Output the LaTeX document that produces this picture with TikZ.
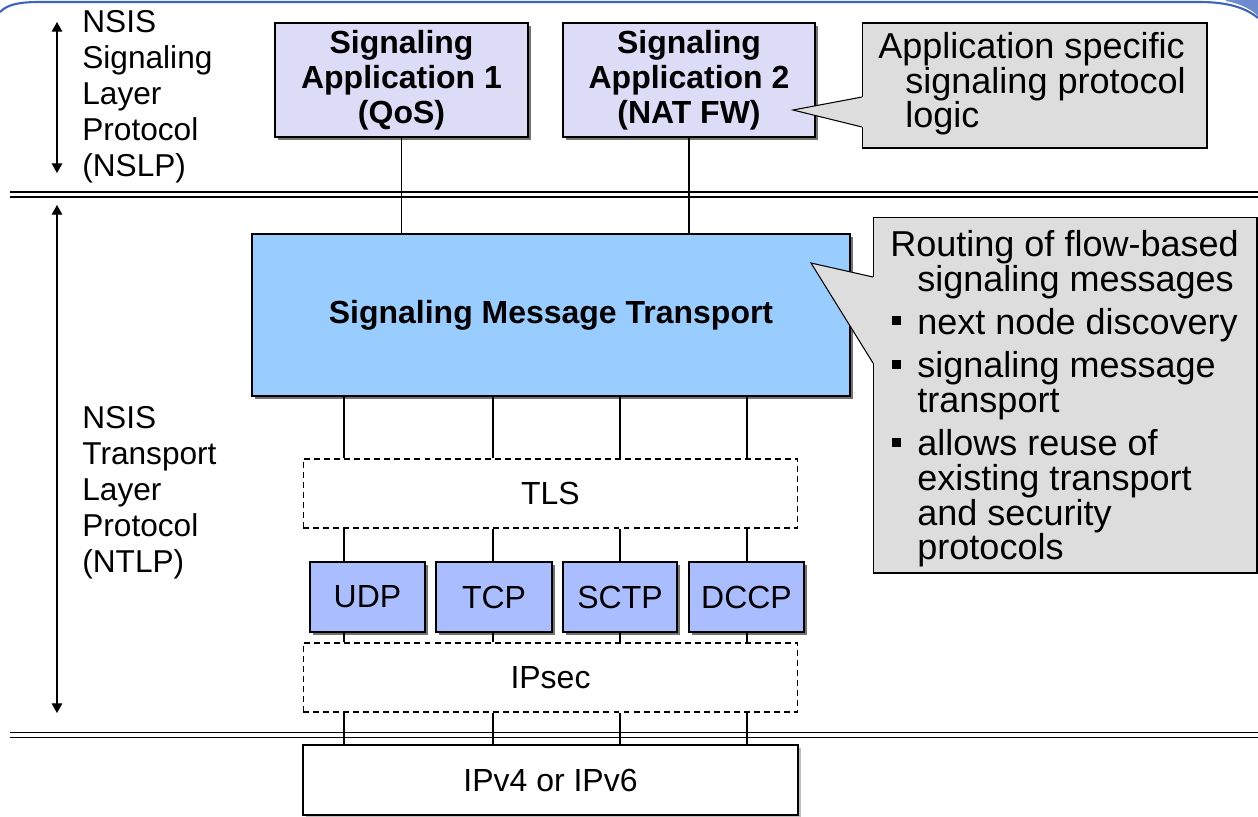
\documentclass[tikz,border=0pt]{standalone}
\usepackage{fontspec}
\setmainfont{Liberation Sans}
\usetikzlibrary{arrows.meta,shadows}

\definecolor{appfill}{RGB}{220,220,246}
\definecolor{smtfill}{RGB}{153,204,255}
\definecolor{protofill}{RGB}{170,190,255}
\definecolor{notefill}{RGB}{221,221,221}
\definecolor{framecol}{RGB}{60,100,190}

\newcommand{\boxfont}{\fontsize{18.2}{19.9}\selectfont}
\newcommand{\labelfont}{\fontsize{18}{20.5}\selectfont}
\newcommand{\notefont}{\fontsize{20.5}{19.7}\selectfont}
\newcommand{\noteindent}{\hspace*{15.4pt}}
\newcommand{\sqbullet}{\makebox[15.4pt][l]{\hspace*{1.1pt}\rule[0.26em]{0.24em}{0.24em}}}

\begin{document}
\begin{tikzpicture}[
    x=0.02cm, y=-0.02cm,
    layerbox/.style={rectangle, draw, line width=0.8pt, align=center, font=\boxfont},
    shadowed/.style={drop shadow={shadow xshift=1.8pt, shadow yshift=-1.8pt, fill=black!55, opacity=1}},
    appbox/.style={layerbox, fill=appfill, shadowed, font=\boxfont\bfseries},
    smtbox/.style={layerbox, fill=smtfill, shadowed, font=\boxfont\bfseries},
    protobox/.style={layerbox, fill=protofill, shadowed, minimum height=1.4cm},
    dashbox/.style={layerbox, line width=0.6pt, dash pattern=on 3.4pt off 2.3pt, fill=white, minimum width=9.9cm, minimum height=1.38cm},
    ipbox/.style={layerbox, fill=white, drop shadow={shadow xshift=1.8pt, shadow yshift=-1.8pt, fill=black!25, opacity=1}},
    note/.style={rectangle, draw, line width=0.6pt, fill=notefill},
    notetext/.style={anchor=north west, inner sep=0pt, align=left, font=\notefont},
    layerlabel/.style={anchor=north west, inner sep=0pt, align=left, font=\labelfont},
    link/.style={line width=0.6pt},
    layerline/.style={double, line width=0.8pt, double distance=2.2pt},
    layerarrow/.style={{Triangle[length=5.5pt,width=6pt]}-{Triangle[length=5.5pt,width=6pt]}, line width=0.7pt}
]
    \useasboundingbox (0,0) rectangle (1258,816);

    % slide frame at the top
    \draw[framecol, line width=1.2pt] (0,12) .. controls (8,4) and (20,2) .. (40,2) -- (1200,2) .. controls (1228,2) and (1246,8) .. (1258,18);
    \fill[framecol!75] (1226,1) .. controls (1242,4) and (1252,10) .. (1258,16) -- (1258,0) -- (1226,0) -- cycle;

    % layer separators
    \coordinate (sepAw) at (10,194.5);
    \coordinate (sepAe) at (1258,194.5);
    \coordinate (sepBw) at (10,735);
    \coordinate (sepBe) at (1258,735);
    \draw[layerline] (sepAw) -- (sepAe);
    \draw[layerline] (sepBw) -- (sepBe);

    % layer labels
    \coordinate (nslptop) at (57,22);
    \coordinate (nslpbot) at (57,173);
    \coordinate (ntlptop) at (57,205);
    \coordinate (ntlpbot) at (57,713);
    \draw[layerarrow] (nslptop) -- (nslpbot);
    \draw[layerarrow] (ntlptop) -- (ntlpbot);
    \node[layerlabel] (nslp) at (82,10) {NSIS\\Signaling\\Layer\\Protocol\\(NSLP)};
    \node[layerlabel] (ntlp) at (82,406) {NSIS\\Transport\\Layer\\Protocol\\(NTLP)};

    % boxes
    \node[appbox, minimum width=5.06cm, minimum height=2.28cm] (app1) at (401.5,80) {Signaling\\Application 1\\(QoS)};
    \node[appbox, minimum width=5.04cm, minimum height=2.28cm] (app2) at (689,80) {Signaling\\Application 2\\(NAT FW)};
    \node[smtbox, minimum width=11.96cm, minimum height=3.24cm] (smt) at (551,315) {Signaling Message Transport};
    \node[dashbox] (tls) at (550.5,493.5) {TLS};
    \node[protobox, minimum width=2.3cm] (udp) at (367.5,597) {UDP};
    \node[protobox, minimum width=2.32cm] (tcp) at (494,597) {TCP};
    \node[protobox, minimum width=2.28cm] (sctp) at (620,597) {SCTP};
    \node[protobox, minimum width=2.3cm] (dccp) at (746.5,597) {DCCP};
    \node[dashbox] (ipsec) at (550.5,677.5) {IPsec};
    \node[ipbox, minimum width=9.9cm, minimum height=1.4cm] (ip) at (550.5,780) {IPv4 or IPv6};

    % connectors
    \draw[link] (app1.south) -- (app1.south |- smt.north);
    \draw[link] (app2.south) -- (app2.south |- smt.north);
    \coordinate (c1) at (344,0);
    \coordinate (c2) at (493,0);
    \coordinate (c3) at (620,0);
    \coordinate (c4) at (747,0);
    \foreach \c/\p in {c1/udp, c2/tcp, c3/sctp, c4/dccp} {
        \draw[link] (smt.south -| \c) -- (tls.north -| \c);
        \draw[link] (tls.south -| \c) -- (\p.north -| \c);
        \draw[link] (\p.south -| \c) -- (ipsec.north -| \c);
        \draw[link] (ipsec.south -| \c) -- (ip.north -| \c);
    }

    % callouts
    \node[note, minimum width=6.9cm, minimum height=2.5cm] (appnote) at (1034.5,85.5) {};
    \coordinate (apptip) at (793,110);
    \fill[notefill] (862,97) -- (apptip) -- (862,127) -- (866,127) -- (866,97) -- cycle;
    \draw[line width=0.6pt] (862,97) -- (apptip) -- (862,127);
    \node[notetext] (apptext) at (878,32) {Application specific\\\noteindent signaling protocol\\\noteindent logic};

    \node[note, minimum width=7.68cm, minimum height=7.12cm] (smtnote) at (1065,395) {};
    \coordinate (smttip) at (811,263);
    \fill[notefill] (873,277) -- (smttip) -- (873,363) -- (877,363) -- (877,277) -- cycle;
    \draw[line width=0.6pt] (873,277) -- (smttip) -- (873,363);
    \node[notetext] (smttext) at (890,230) {Routing of flow-based\\\noteindent signaling messages\\[5pt]\sqbullet next node discovery\\[5pt]\sqbullet signaling message\\\noteindent transport\\[5pt]\sqbullet allows reuse of\\\noteindent existing transport\\\noteindent and security\\\noteindent protocols};
\end{tikzpicture}
\end{document}
